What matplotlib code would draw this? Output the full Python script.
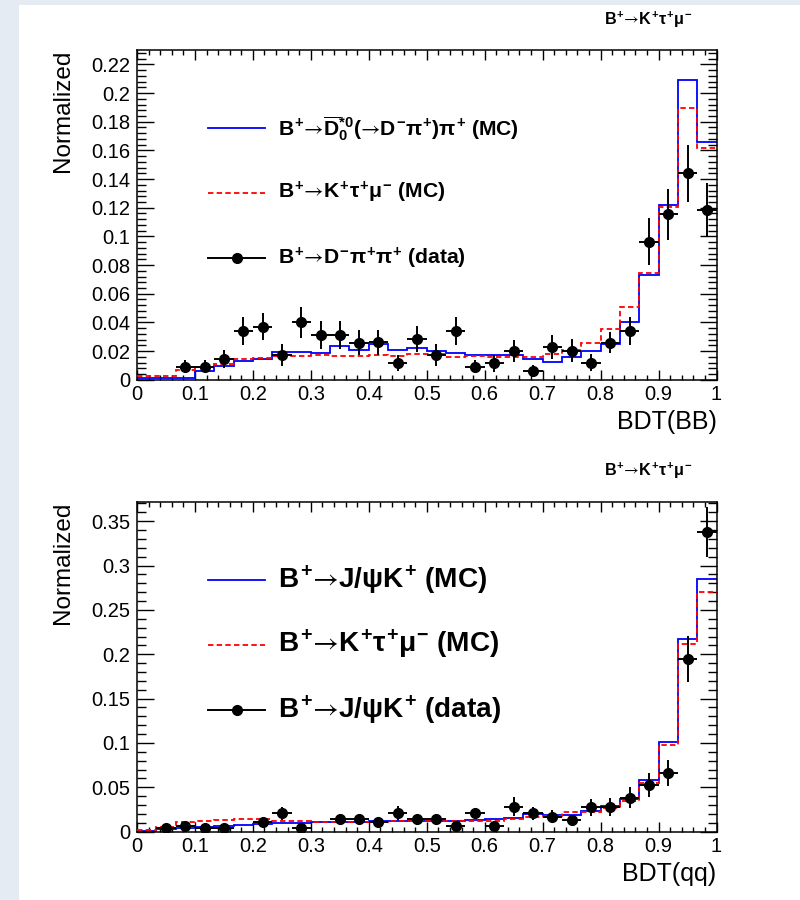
import numpy as np
import matplotlib
matplotlib.use('Agg')
import matplotlib.pyplot as plt
from matplotlib.patches import Rectangle
from matplotlib.ticker import MultipleLocator, FuncFormatter

plt.rcParams['font.family'] = ['Liberation Sans', 'DejaVu Sans']
plt.rcParams['mathtext.fontset'] = 'custom'
plt.rcParams['mathtext.rm'] = 'Liberation Sans:bold'
plt.rcParams['mathtext.it'] = 'Liberation Sans:bold'
plt.rcParams['mathtext.bf'] = 'Liberation Sans:bold'
plt.rcParams['mathtext.sf'] = 'STIXGeneral'
plt.rcParams['mathtext.fallback'] = 'stixsans'

# 30 bins of the BDT output
edges = np.linspace(0, 1, 31)

# BDT(BB)
bb_ctrl_mc = [0.001, 0.001, 0.001, 0.0059, 0.0098, 0.0132, 0.0144, 0.0195, 0.0195, 0.0188,
              0.0235, 0.021, 0.0249, 0.0207, 0.0219, 0.020, 0.0184, 0.017, 0.017, 0.017,
              0.0142, 0.0125, 0.016, 0.020, 0.0247, 0.040, 0.0734, 0.1217, 0.2093, 0.1659]
bb_sig_mc = [0.0026, 0.0026, 0.007, 0.009, 0.011, 0.0145, 0.0152, 0.0165, 0.0168, 0.017,
             0.0162, 0.0167, 0.0175, 0.0168, 0.0176, 0.0176, 0.016, 0.0166, 0.016, 0.016,
             0.0156, 0.0177, 0.0207, 0.0254, 0.0351, 0.0505, 0.0741, 0.1206, 0.1898, 0.162]
bb_data = [None, None, 0.0091, 0.0091, 0.0144, 0.0339, 0.0369, 0.0172, 0.040, 0.0311,
           0.0311, 0.0258, 0.026, 0.0114, 0.0284, 0.0172, 0.0339, 0.0091, 0.0114, 0.020,
           0.006, 0.023, 0.0202, 0.0119, 0.0258, 0.0342, 0.0962, 0.1155, 0.144, 0.1187]
bb_err = [None, None, 0.0046, 0.0046, 0.0063, 0.0098, 0.0095, 0.0074, 0.0107, 0.0098,
          0.0098, 0.0086, 0.0086, 0.0056, 0.0088, 0.0074, 0.0098, 0.0046, 0.0058, 0.0074,
          0.0044, 0.0084, 0.0079, 0.0058, 0.0075, 0.0098, 0.0163, 0.0177, 0.020, 0.0186]

# BDT(qq)
qq_ctrl_mc = [0.0005, 0.003, 0.004, 0.005, 0.006, 0.0075, 0.0087, 0.0095, 0.0095, 0.011,
              0.011, 0.011, 0.0115, 0.0115, 0.012, 0.012, 0.0125, 0.0132, 0.014, 0.015,
              0.0195, 0.019, 0.019, 0.0233, 0.029, 0.0372, 0.058, 0.101, 0.2175, 0.285]
qq_sig_mc = [0.002, 0.005, 0.0113, 0.0124, 0.013, 0.014, 0.014, 0.0125, 0.0115, 0.011,
             0.011, 0.011, 0.011, 0.0115, 0.0115, 0.012, 0.012, 0.0124, 0.0124, 0.0139,
             0.0169, 0.0175, 0.0218, 0.0218, 0.0263, 0.0348, 0.0549, 0.0977, 0.2115, 0.27]
qq_data = [None, 0.0038, 0.0068, 0.0038, 0.0038, None, 0.0113, 0.0207, 0.0038, None,
           0.014, 0.014, 0.0106, 0.0207, 0.014, 0.014, 0.0068, 0.0207, 0.0068, 0.0282,
           0.0207, 0.0169, 0.0132, 0.0274, 0.0278, 0.0385, 0.0527, 0.0662, 0.195, 0.338]
qq_err = [None, 0.003, 0.004, 0.003, 0.003, None, 0.0055, 0.0075, 0.003, None,
          0.006, 0.006, 0.005, 0.008, 0.006, 0.006, 0.004, 0.006, 0.004, 0.011,
          0.007, 0.007, 0.006, 0.010, 0.010, 0.012, 0.014, 0.015, 0.026, 0.028]

# thin Symbol-style arrow, no relation spacing
arr = r'\mathsf{→}'
sig_label = r'$B^{+}' + arr + r'K^{+}\tau^{+}\mu^{-}$'
bb_labels = [r'$B^{+}' + arr + r'\overline{D}_{0}^{*0}(' + arr + r'D^{-}\pi^{+})\pi^{+}$ (MC)',
             sig_label + ' (MC)',
             r'$B^{+}' + arr + r'D^{-}\pi^{+}\pi^{+}$ (data)']
qq_labels = [r'$B^{+}' + arr + r'J/\psi K^{+}$ (MC)',
             sig_label + ' (MC)',
             r'$B^{+}' + arr + r'J/\psi K^{+}$ (data)']

bg = '#e4ebf3'
fig = plt.figure(figsize=(8, 9), dpi=100, facecolor=bg)
fig.add_artist(Rectangle((19 / 800, 0), 1, 1 - 5 / 900, transform=fig.transFigure,
                         facecolor='white', edgecolor='none', zorder=-10))

ax1 = fig.add_axes([0.17125, 0.5781, 0.724375, 0.3663])
ax2 = fig.add_axes([0.17125, 0.0759, 0.724375, 0.3667])

fmt = FuncFormatter(lambda v, p: '%g' % round(v, 4))
dashes = (0, (3, 1.8))


def draw_panel(ax, ctrl, sig, data, err, ymax, ystep, xlabel, labels, legend_fs):
    d = np.array(data, dtype=float)
    e = np.array(err, dtype=float)
    centers = 0.5 * (edges[:-1] + edges[1:])
    half = 0.5 * np.diff(edges)
    ok = ~np.isnan(d)

    ax.stairs(ctrl, edges, baseline=None, color='blue', lw=1.3, zorder=2)
    ax.stairs(sig, edges, baseline=None, color='red', lw=1.3, linestyle=dashes, zorder=3)
    ax.errorbar(centers[ok], d[ok], xerr=half[ok], yerr=e[ok], fmt='o', color='black',
                ms=7, elinewidth=1.4, capsize=0, zorder=4)

    ax.set_xlim(0, 1)
    ax.set_ylim(0, ymax)
    ax.xaxis.set_major_locator(MultipleLocator(0.1))
    ax.xaxis.set_minor_locator(MultipleLocator(0.02))
    ax.yaxis.set_major_locator(MultipleLocator(ystep))
    ax.yaxis.set_minor_locator(MultipleLocator(ystep / 5))
    ax.xaxis.set_major_formatter(fmt)
    ax.yaxis.set_major_formatter(fmt)
    ax.tick_params(axis='both', which='both', direction='in', top=True, right=True,
                   width=1.0, labelsize=14.5)
    ax.tick_params(axis='x', which='major', length=7, pad=4)
    ax.tick_params(axis='x', which='minor', length=3.6)
    ax.tick_params(axis='y', which='major', length=12.5, pad=5)
    ax.tick_params(axis='y', which='minor', length=6.5)
    for s in ax.spines.values():
        s.set_linewidth(1.1)

    ax.text(1.0, -0.128, xlabel, transform=ax.transAxes, ha='right', va='center',
            fontsize=18)
    ax.text(-0.128, 1.0, 'Normalized', transform=ax.transAxes, rotation=90,
            ha='center', va='top', fontsize=17.5)
    ax.text(0.882, 1.093, sig_label, transform=ax.transAxes, ha='center', va='center',
            fontsize=11.6)

    # legend
    rows = [0.763, 0.567, 0.369]
    kx = [0.1225, 0.221]
    ax.plot(kx, [rows[0]] * 2, transform=ax.transAxes, color='blue', lw=1.3)
    ax.plot(kx, [rows[1]] * 2, transform=ax.transAxes, color='red', lw=1.3, linestyle=dashes)
    ax.plot(kx, [rows[2]] * 2, transform=ax.transAxes, color='black', lw=1.4)
    ax.plot([0.1725], [rows[2]], transform=ax.transAxes, marker='o', color='black', ms=7)
    for r, lab in zip(rows, labels):
        ax.text(0.2433, r, lab, transform=ax.transAxes, ha='left', va='center',
                fontsize=legend_fs, fontweight='bold')


draw_panel(ax1, bb_ctrl_mc, bb_sig_mc, bb_data, bb_err, 0.23, 0.02, 'BDT(BB)',
           bb_labels, 15.2)
draw_panel(ax2, qq_ctrl_mc, qq_sig_mc, qq_data, qq_err, 0.372, 0.05, 'BDT(qq)',
           qq_labels, 20.2)

fig.savefig('out.png', dpi=100, facecolor=fig.get_facecolor())
